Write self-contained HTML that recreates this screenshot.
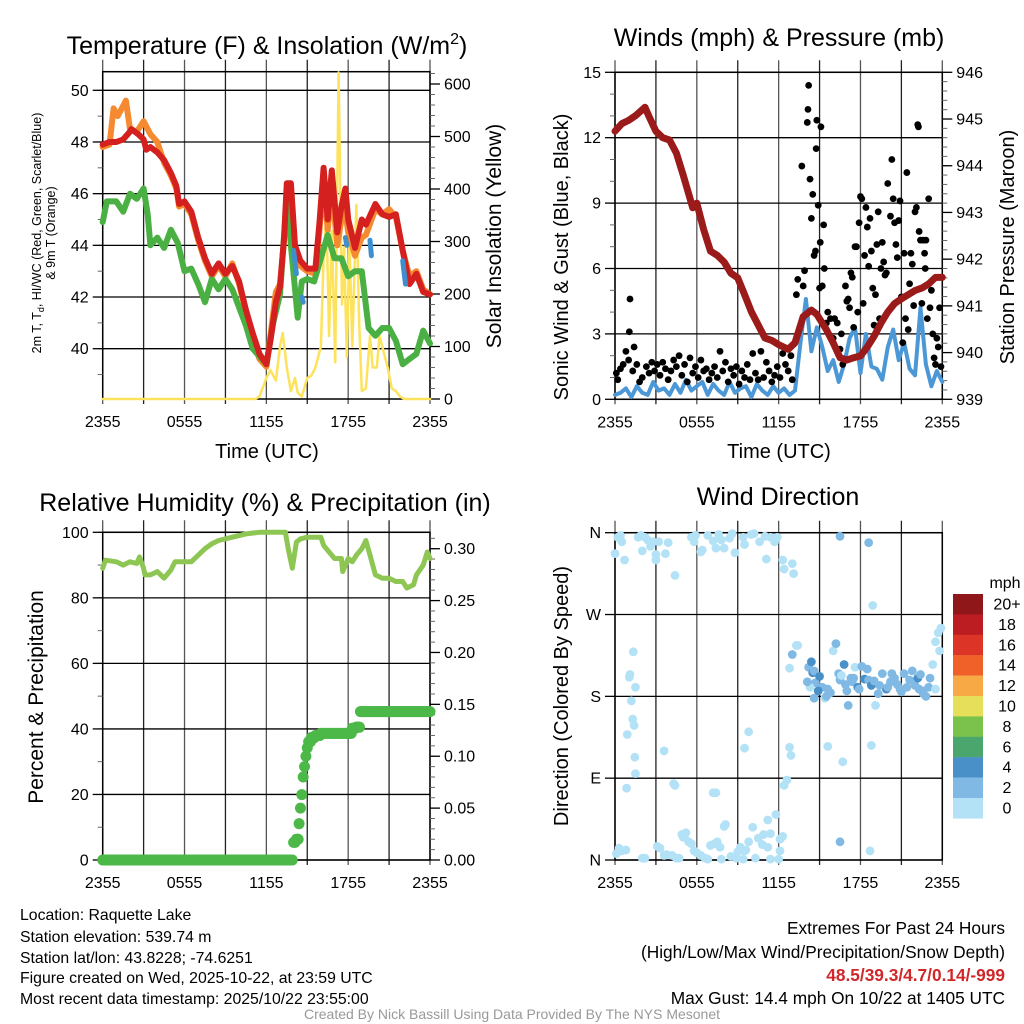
<!DOCTYPE html>
<html><head><meta charset="utf-8"><style>
body{margin:0;background:#fff}
svg{display:block;font-family:"Liberation Sans",Arial,sans-serif}
</style></head><body>
<svg id="s" width="1024" height="1024" viewBox="0 0 1024 1024" xmlns="http://www.w3.org/2000/svg">
<g font-size="25" text-anchor="middle">
<text x="267" y="54">Temperature (F) &amp; Insolation (W/m<tspan dy="-10" font-size="16">2</tspan><tspan dy="10">)</tspan></text>
<text x="779" y="46">Winds (mph) &amp; Pressure (mb)</text>
<text x="265" y="511">Relative Humidity (%) &amp; Precipitation (in)</text>
<text x="778" y="505">Wind Direction</text>
</g>
<g font-size="20" text-anchor="middle">
<text x="267" y="458">Time (UTC)</text>
<text x="779" y="458">Time (UTC)</text>
<text transform="translate(501,236) rotate(-90)" font-size="21">Solar Insolation (Yellow)</text>
<text transform="translate(568,257) rotate(-90)">Sonic Wind &amp; Gust (Blue, Black)</text>
<text transform="translate(1014,247) rotate(-90)">Station Pressure (Maroon)</text>
<text transform="translate(43,697) rotate(-90)" font-size="21">Percent &amp; Precipitation</text>
<text transform="translate(568,696) rotate(-90)">Direction (Colored By Speed)</text>
<text transform="translate(41,233) rotate(-90)" font-size="12.5">2m T, T<tspan font-size="9" dy="3">d</tspan><tspan dy="-3">, HI/WC (Red, Green, Scarlet/Blue)</tspan></text>
<text transform="translate(55,233) rotate(-90)" font-size="12.5">&amp; 9m T (Orange)</text>
</g>
<g font-size="15.8">
<text x="20" y="920">Location: Raquette Lake</text>
<text x="20" y="942">Station elevation: 539.74 m</text>
<text x="20" y="963">Station lat/lon: 43.8228; -74.6251</text>
<text x="20" y="983">Figure created on Wed, 2025-10-22, at 23:59 UTC</text>
<text x="20" y="1004">Most recent data timestamp: 2025/10/22 23:55:00</text>
</g>
<g font-size="17.3" text-anchor="end">
<text x="1005" y="934">Extremes For Past 24 Hours</text>
<text x="1005" y="958">(High/Low/Max Wind/Precipitation/Snow Depth)</text>
<text x="1005" y="981" fill="#d0282a" font-weight="bold">48.5/39.3/4.7/0.14/-999</text>
<text x="1005" y="1004">Max Gust: 14.4 mph On 10/22 at 1405 UTC</text>
</g>
<text x="512" y="1019" font-size="14" fill="#999" text-anchor="middle">Created By Nick Bassill Using Data Provided By The NYS Mesonet</text>
</svg>
<script>
// ---------- data ----------
const timeTicks = ["2355","0555","1155","1755","2355"];
const tempTicks = [40,42,44,46,48,50];
const solarTicks = [0,100,200,300,400,500,600];
const windTicks = [0,3,6,9,12,15];
const presTicks = [939,940,941,942,943,944,945,946];
const rhTicks = [0,20,40,60,80,100];
const pcpTicks = ["0.00","0.05","0.10","0.15","0.20","0.25","0.30"];
const dirTicks = ["N","E","S","W","N"];
const legendLabels = ["20+","18","16","14","12","10","8","6","4","2","0"];
const legendColors = ["#8f1619","#bb1d23","#dc3427","#f0612a","#f7a945","#e6df5a","#7ac24c","#4aa66c","#4a90c8","#80bae4","#b3e2f7"];

const tempRed = [[0,47.9],[0.5,48.0],[1,48.0],[1.5,48.1],[2,48.4],[2.1,48.5],[2.6,48.3],[3,48.1],[3.2,47.7],[3.5,47.8],[4,47.6],[4.5,47.3],[5,46.8],[5.4,46.3],[5.6,45.6],[6,45.7],[6.5,45.3],[7,44.3],[7.5,43.5],[8,42.9],[8.5,43.3],[9,42.9],[9.5,43.2],[10,42.6],[10.5,41.5],[11,40.6],[11.5,39.8],[12,39.4],[12.3,40.3],[12.7,41.8],[13,42.4],[13.3,44.3],[13.5,46.4],[13.8,46.4],[14.1,44.0],[14.5,43.4],[15,43.1],[15.6,43.1],[15.9,44.9],[16.2,47.0],[16.5,45.0],[16.8,46.9],[17.2,44.5],[17.5,45.5],[17.8,46.2],[18,45.0],[18.5,43.9],[19,45.0],[19.3,44.8],[20,45.6],[20.5,45.2],[21,45.1],[21.5,45.2],[22,43.8],[22.5,42.5],[23,42.9],[23.5,42.2],[24,42.1]];
const tempOrange = [[0,47.8],[0.5,47.9],[0.8,49.3],[1.1,49.0],[1.7,49.6],[2,48.5],[2.5,48.4],[3,48.8],[3.5,48.3],[4,48.0],[4.5,47.2],[5,46.7],[5.4,46.2],[5.6,45.5],[6,45.6],[6.5,45.2],[7,44.2],[7.5,43.4],[8,42.8],[8.5,43.2],[9,42.8],[9.5,43.3],[10,42.5],[10.5,41.4],[11,40.4],[11.5,39.6],[12,39.3],[12.3,40.5],[12.7,42.2],[13,42.5],[13.3,44.2],[13.5,46.2],[13.8,46.0],[14.1,43.7],[14.5,43.2],[15,43.0],[15.6,42.9],[15.9,44.6],[16.2,46.5],[16.5,44.6],[16.8,46.2],[17.2,44.0],[17.5,45.0],[17.8,45.3],[18,44.5],[18.5,43.6],[19,44.3],[19.3,44.4],[20,45.4],[20.5,45.2],[21,45.4],[21.5,45.1],[22,43.8],[22.5,42.8],[23,43.0],[23.5,42.3],[24,42.1]];
const tempGreen = [[0,44.9],[0.3,45.7],[1,45.7],[1.5,45.3],[2,46.0],[2.5,45.8],[3,46.2],[3.3,45.2],[3.5,44.0],[4,44.3],[4.5,43.9],[5,44.6],[5.5,44.1],[6,43.0],[6.5,43.1],[7,42.5],[7.5,41.8],[8,42.7],[8.5,42.3],[9,42.7],[9.5,42.3],[10,41.6],[10.5,40.9],[11,40.0],[11.5,39.7],[12,39.4],[12.5,41.0],[13,42.1],[13.5,45.9],[13.8,44.0],[14.3,41.2],[14.6,42.6],[15,42.7],[15.5,42.6],[16,43.5],[16.5,44.4],[17,43.5],[17.5,43.5],[18,42.8],[18.5,43.0],[19,43.0],[19.5,40.8],[20,40.5],[20.5,40.8],[21,40.8],[21.5,40.3],[22,39.4],[22.5,39.6],[23,39.8],[23.5,40.7],[24,40.2]];
const tempBlueA = [[14.0,43.8],[14.2,42.9]];
const tempBlueB = [[14.6,42.0],[14.7,41.8]];
const tempBlueC = [[17.8,44.3],[17.9,44.0]];
const tempBlueD = [[19.6,44.2],[19.7,43.6]];
const tempBlueE = [[22.0,43.4],[22.2,42.5]];
const solar = [[0,0],[11.2,0],[11.5,5],[12,40],[12.3,55],[12.7,35],[13,100],[13.2,126],[13.5,60],[13.8,15],[14.1,40],[14.3,12],[14.6,5],[15,40],[15.3,45],[15.6,60],[16,100],[16.2,270],[16.4,350],[16.6,120],[16.8,320],[17.05,70],[17.3,622],[17.55,180],[17.7,290],[17.9,80],[18.1,300],[18.3,100],[18.6,370],[18.8,150],[19,15],[19.3,20],[19.6,120],[19.8,60],[20.1,60],[20.3,120],[20.6,90],[20.9,60],[21.2,20],[21.5,15],[21.8,5],[22.1,0],[24,0]];

const sonicWind = [0.2,0.3,0.5,0.1,0.6,0.3,0.2,0.8,0.4,0.5,0.2,0.7,0.3,0.9,0.4,0.6,0.8,0.2,0.7,0.4,0.2,0.8,0.3,0.5,0.6,0.1,0.7,0.4,0.2,0.6,0.3,0.5,0.2,0.4,2.6,4.6,2.2,3.3,2.4,1.3,1.8,0.8,1.6,2.8,3.3,1.2,3.0,1.5,1.4,0.9,2.4,3.2,1.8,2.6,1.4,1.1,4.2,1.6,0.6,1.3,0.8];
const gusts = [[0.1,1.2],[0.2,0.9],[0.4,1.4],[0.6,1.6],[0.8,2.2],[1.0,1.8],[1.05,3.1],[1.1,4.6],[1.3,1.3],[1.4,2.4],[1.6,1.6],[1.8,0.8],[2.0,1.0],[2.3,1.5],[2.5,1.2],[2.7,1.7],[2.9,1.3],[3.1,1.6],[3.3,1.1],[3.5,1.7],[3.7,1.4],[3.9,0.9],[4.1,1.3],[4.3,1.8],[4.5,1.5],[4.7,2.0],[4.9,1.1],[5.1,1.6],[5.3,0.8],[5.5,1.9],[5.7,1.2],[5.9,1.5],[6.1,1.0],[6.3,1.8],[6.5,1.3],[6.7,1.4],[6.9,0.9],[7.1,1.2],[7.3,1.5],[7.5,1.0],[7.7,2.2],[7.9,1.3],[8.1,1.7],[8.3,0.8],[8.5,1.4],[8.7,1.1],[8.9,1.5],[9.1,0.7],[9.3,1.3],[9.5,1.0],[9.7,1.6],[9.9,0.9],[10.1,2.1],[10.3,1.2],[10.5,0.9],[10.7,2.2],[10.9,1.0],[11.1,1.7],[11.3,1.3],[11.5,0.8],[11.7,1.1],[11.9,1.5],[12.1,1.0],[12.3,2.1],[12.5,1.6],[12.7,1.3],[12.9,2.0],[13.0,0.9],
[13.3,4.8],[13.4,5.5],[13.7,10.7],[13.8,5.2],[13.9,5.9],[14.1,12.7],[14.15,13.3],[14.2,14.4],[14.3,10.1],[14.4,8.3],[14.5,9.4],[14.6,6.6],[14.7,6.8],[14.75,11.5],[14.8,12.8],[14.9,8.9],[15.0,5.1],[15.05,7.2],[15.1,12.5],[15.2,5.2],[15.3,8.0],[15.35,6.0],[15.5,3.5],[15.6,4.0],[15.8,3.7],[16.0,2.8],[16.1,3.7],[16.3,3.5],[16.5,2.3],[16.6,3.0],[16.7,1.6],[16.9,5.2],[17.0,4.5],[17.1,4.6],[17.2,4.2],[17.3,5.8],[17.4,5.6],[17.5,3.3],[17.6,7.0],[17.7,7.0],[17.8,4.0],[17.9,8.1],[18.0,9.3],[18.1,9.2],[18.2,4.4],[18.3,6.6],[18.4,8.8],[18.5,7.9],[18.6,6.1],[18.7,8.3],[18.8,6.8],[18.9,5.1],[19.0,3.4],[19.1,4.8],[19.2,7.1],[19.3,8.6],[19.4,3.7],[19.5,6.0],[19.6,7.2],[19.7,6.3],[19.8,5.7],[19.9,5.8],[20.0,9.9],[20.2,8.4],[20.3,11.0],[20.4,9.2],[20.5,8.1],[20.6,7.1],[20.7,6.5],[20.8,8.2],[20.9,9.1],[21.0,4.7],[21.1,2.6],[21.2,6.7],[21.3,3.7],[21.4,10.4],[21.5,3.2],[21.6,5.3],[21.7,6.7],[21.8,6.2],[21.9,4.3],[22.0,8.6],[22.1,8.8],[22.2,12.6],[22.25,12.5],[22.3,7.7],[22.4,7.3],[22.5,4.4],[22.6,7.3],[22.7,6.7],[22.75,6.0],[22.8,7.3],[22.9,3.7],[23.0,9.2],[23.1,4.2],[23.2,5.0],[23.3,3.0],[23.4,1.9],[23.5,1.6],[23.6,2.8],[23.7,2.4],[23.8,4.2],[23.9,1.5]];
const pressure = [[0,944.74],[0.5,944.9],[1,944.97],[1.5,945.07],[2.2,945.25],[2.5,945.05],[3,944.74],[3.5,944.6],[4,944.55],[4.5,944.27],[5,943.8],[5.5,943.3],[5.7,943.1],[6,943.2],[6.5,942.64],[7,942.17],[7.5,942.08],[8,941.94],[8.5,941.7],[9,941.6],[9.5,941.24],[10,940.87],[10.5,940.59],[11,940.31],[11.5,940.26],[12,940.17],[12.7,940.07],[13.2,940.21],[13.8,940.77],[14.4,940.91],[14.8,940.82],[15.5,940.49],[16,940.21],[16.5,939.89],[17,939.84],[17.5,939.89],[18,939.93],[18.5,940.12],[19,940.35],[19.5,940.63],[20,940.87],[20.5,941.05],[21,941.15],[21.5,941.24],[22,941.33],[22.5,941.38],[23,941.47],[23.5,941.61],[24,941.61]];

const rh = [[0,89],[0.2,91.5],[1,91],[1.5,90],[2,91],[2.5,90.5],[2.7,92.5],[3,89],[3.1,87],[3.5,87],[4,88],[4.5,86],[5,88.5],[5.3,91],[6,91],[6.5,91],[7,93],[7.5,95],[8,96.5],[8.5,97.5],[9.5,98.5],[10.5,99.5],[11.5,100],[13,100],[13.4,100],[13.6,95],[13.9,89],[14.2,97],[14.5,98],[15,98.5],[16,98.5],[16.2,96],[16.6,94],[17,92],[17.5,92],[17.6,88],[18,92],[18.3,91],[18.6,93],[19,95],[19.3,97.5],[19.6,93],[20,87],[20.5,86],[21,86],[21.5,85],[22,85],[22.3,83],[22.8,84],[23,87],[23.5,90],[23.8,94],[24,92]];
const precipH = [0,1,2,3,4,5,6,7,8,9,10,11,12,13,13.6,13.9,14.0,14.2,14.4,14.5,14.6,14.7,14.8,14.9,15.0,15.1,15.3,15.6,16,16.5,17,17.5,18,18.3,18.6,18.9,19.5,20,21,22,23,24];
const precipV = [0,0,0,0,0,0,0,0,0,0,0,0,0,0,0,0,0.017,0.02,0.035,0.05,0.063,0.08,0.09,0.1,0.108,0.114,0.118,0.12,0.122,0.122,0.122,0.122,0.122,0.127,0.128,0.143,0.143,0.143,0.143,0.143,0.143,0.143];

const dirH = [0,0.2,0.4,0.5,0.7,1.7,1.9,2.0,2.2,2.4,2.6,2.8,3.0,3.2,3.0,3.7,3.9,4.4,5.6,5.8,5.9,6.3,6.4,6.8,7.2,7.4,7.6,7.8,8.0,8.4,8.6,8.8,9.4,9.5,10.2,10.0,10.6,11.0,11.4,11.1,11.7,11.9,12.3,12.4,13.0,13.1,
1.34,1.05,1.1,1.5,1.2,1.3,1.4,0.9,1.45,1.5,0.85,3.6,4.3,4.4,7.2,7.4,9.5,9.8,12.4,12.8,12.9,
0.1,0.3,0.5,0.8,2.0,2.2,3.1,3.3,3.6,3.8,4.2,4.5,4.7,5.0,5.1,4.9,5.2,5.4,5.6,5.8,6.0,6.3,6.6,7.0,7.3,7.5,7.7,8.0,8.1,8.5,8.9,9.0,9.2,9.5,9.6,9.8,10.1,10.5,10.8,11.2,11.4,11.8,11.2,10.9,12.1,12.3,12.1,11.4,10.3,9.4,7.8,6.8,12.0,
12.8,13.0,13.3,13.4,14.2,14.4,14.5,14.6,14.7,14.3,14.6,15.0,15.2,15.4,15.5,15.6,16.0,16.2,16.4,16.5,16.6,16.8,16.9,17.0,17.1,17.3,17.4,17.6,17.8,17.9,18.1,18.3,18.5,18.6,18.8,19.0,19.1,19.3,19.6,19.9,20.0,20.2,20.3,20.5,20.7,20.9,21.2,21.4,21.6,21.8,22.0,22.2,22.4,22.6,22.8,23.0,23.1,23.3,23.5,23.7,23.9,23.8,23.5,
16.5,18.6,18.9,16.5,18.7,15.6,16.7,18.8,12.6,14.1,14.9,15.8,17.5,19.4,20.5,21.0,22.3,22.6];
const dirD = [337,355,357,350,330,355,357,340,355,352,345,350,336,350,330,337,349,313,355,350,357,339,341,357,351,343,358,352,343,354,359,338,355,347,359,358,350,356,355,331,350,355,330,320,326,315,
229,201,204,190,175,155,148,138,113,95,79,120,84,82,74,74,123,141,82,124,115,
7,13,10,11,2,2,15,13,5,6,5,2,2,25,27,28,30,20,18,10,8,5,2,16,18,20,14,37,39,4,2,9,14,10,11,20,36,24,17,14,29,50,44,28,23,26,10,1,2,1,1,1,1,
211,226,236,236,212,218,206,208,195,190,178,202,190,178,180,188,230,238,205,198,203,215,193,186,170,200,196,212,190,188,213,199,210,198,192,197,170,183,205,188,190,196,205,200,193,188,205,190,198,208,192,200,204,186,180,190,200,215,240,250,255,230,188,
356,349,280,20,10,125,108,126,88,196,186,184,200,192,196,185,188,183];
const dirB = [0,0,0,0,0,0,0,0,0,0,0,0,0,0,0,0,0,0,0,0,0,0,0,0,0,0,0,0,0,0,0,0,0,0,0,0,0,0,0,0,0,0,0,0,0,0,
0,0,0,0,0,0,0,0,0,0,0,0,0,0,0,0,0,0,0,0,0,
0,0,0,0,0,0,0,0,0,0,0,0,0,0,0,0,0,0,0,0,0,0,0,0,0,0,0,0,0,0,0,0,0,0,0,0,0,0,0,0,0,0,0,0,0,0,0,0,0,0,0,0,0,
0,1,0,0,1,2,2,1,1,0,1,2,1,0,1,1,0,1,1,1,0,2,1,1,1,1,1,0,2,1,1,2,1,1,2,1,0,1,1,2,1,1,1,1,1,1,1,1,1,1,1,2,1,1,1,1,1,0,0,0,0,0,0,
1,1,0,1,0,0,0,0,0,1,2,1,1,1,1,1,1,1];
const binColors = ["#b3e2f7","#80bae4","#4a90c8"];

// ---------- drawing ----------
const svg = document.getElementById('s');
const NS = "http://www.w3.org/2000/svg";
function mk(tag, attrs, parent){ const e=document.createElementNS(NS,tag); for(const k in attrs) e.setAttribute(k,attrs[k]); (parent||svg).appendChild(e); return e; }

function makePanel(name, x0, x1, y0, y1){
  const g = mk('g',{});
  
  
  const sx = h => x0 + (x1-x0)*h/24;
  return {g, x0, x1, y0, y1, sx};
}
function frameAndGrid(p, hGridYs){
  const grid = mk('g',{stroke:'#000','stroke-width':1.3}, p.g);
  
  
  for(let i=0;i<=8;i++){ const x=p.sx(i*3); mk('line',{x1:x,x2:x,y1:p.y0-12,y2:p.y1+5,stroke:i%2?'#222':'#555'},grid); }
  hGridYs.forEach(y=>mk('line',{x1:p.x0,x2:p.x1,y1:y,y2:y},grid));
  mk('rect',{x:p.x0,y:p.y0,width:p.x1-p.x0,height:p.y1-p.y0,fill:'none',stroke:'#000','stroke-width':1.5},grid);
  const xt = mk('g',{'font-size':16,'text-anchor':'middle'}, p.g);
  
  
  timeTicks.forEach((t,i)=>{ const e=mk('text',{x:p.sx(i*6),y:p.y1+28},xt); e.textContent=t; });
}
function yAxis(p, side, ticks, scale, minorStep, lo, hi, labelFn){
  const g = mk('g',{'font-size':16,'text-anchor': side==='left'?'end':'start'}, p.g);
  
  
  const xe = side==='left'?p.x0:p.x1, dir = side==='left'?-1:1;
  if(minorStep){ for(let v=lo; v<=hi+1e-9; v+=minorStep){ const y=scale(v); if(y<p.y0-0.5||y>p.y1+0.5) continue; mk('line',{x1:xe,x2:xe+dir*5,y1:y,y2:y,stroke:'#666','stroke-width':1},g);} }
  ticks.forEach((t,i)=>{ const y=scale(typeof t==='string'? parseFloat(t): t);
    mk('line',{x1:xe,x2:xe+dir*10,y1:y,y2:y,stroke:'#000','stroke-width':1.3},g);
    const e=mk('text',{x:xe+dir*14,y:y+5.5},g); e.textContent = labelFn?labelFn(t,i):t; });
}
function line(p, pts, sxF, syF, color, w, name){
  const d = pts.map(q=>sxF(q[0]).toFixed(1)+','+syF(q[1]).toFixed(1)).join(' ');
  const e = mk('polyline',{points:d,fill:'none',stroke:color,'stroke-width':w,'stroke-linejoin':'round','stroke-linecap':'round'},p.g);
  
  
  return e;
}

// Panel 1: temperature
const p1 = makePanel('temperature-panel', 102.7, 430, 71.7, 399);
const yT = v => 348.7 - (v-40)*25.84;
const yS = v => 399 - v*0.525;
frameAndGrid(p1, tempTicks.map(yT));
yAxis(p1,'left',tempTicks,yT,1,38,50);
yAxis(p1,'right',solarTicks,yS,20,0,620);
line(p1, solar, p1.sx, yS, '#fde35c', 2.5, 'insolation-line');
line(p1, tempOrange, p1.sx, yT, '#f58a30', 6, 'temp-9m-line');
line(p1, tempGreen, p1.sx, yT, '#4bb043', 6, 'dewpoint-line');
line(p1, tempRed, p1.sx, yT, '#d4201f', 6, 'temp-2m-line');
[tempBlueA,tempBlueB,tempBlueC,tempBlueD,tempBlueE].forEach(s=>line(p1, s, p1.sx, yT, '#3f8fcf', 5, 'windchill-segment'));

// Panel 2: winds & pressure
const p2 = makePanel('winds-panel', 615, 942.3, 72.3, 399.3);
const yW = v => 399.3 - v*(327/15);
const yP = v => 399.3 - (v-939)*(327/7);
frameAndGrid(p2, windTicks.map(yW));
yAxis(p2,'left',windTicks,yW,1,0,15);
yAxis(p2,'right',presTicks,yP,0.2,939,946);
line(p2, sonicWind.map((v,i)=>[i*0.4,v]), p2.sx, yW, '#4c98d6', 4, 'sonic-wind-line');
gusts.forEach(q=>{ const c=mk('circle',{cx:p2.sx(q[0]),cy:yW(q[1]),r:3.4,fill:'#000'},p2.g);
  
   });
line(p2, pressure, p2.sx, yP, '#9b1a1a', 7, 'pressure-line');

// Panel 3: RH & precip
const p3 = makePanel('humidity-panel', 102.7, 430, 532.3, 860);
const yR = v => 860 - v*3.277;
const yPc = v => 860 - v*(311.3/0.30);
frameAndGrid(p3, rhTicks.map(yR));
yAxis(p3,'left',rhTicks,yR,10,0,100);
yAxis(p3,'right',pcpTicks,yPc,0.01,0,0.31);
line(p3, rh, p3.sx, yR, '#8dc653', 5, 'rh-line');
for(let i=0;i<precipH.length;i++){
  const n = i<precipH.length-1 ? Math.max(1,Math.round((precipH[i+1]-precipH[i])/0.08)) : 1;
  for(let k=0;k<n;k++){
    const h = precipH[i] + (i<precipH.length-1? (precipH[i+1]-precipH[i])*k/n : 0);
    const c = mk('circle',{cx:p3.sx(h),cy:yPc(precipV[i]),r:5.5,fill:'#4cb848'},p3.g);
    
    
  }
}

// Panel 4: wind direction
const p4 = makePanel('direction-panel', 615, 942.3, 532.7, 860);
const yD = v => 860 - v*(327.3/360);
frameAndGrid(p4, [0,90,180,270,360].map(yD));
yAxis(p4,'left',[0,90,180,270,360],yD,0,0,0,(t,i)=>dirTicks[i]);
dirH.forEach((h,i)=>{ const c=mk('circle',{cx:p4.sx(h),cy:yD(dirD[i]),r:4.4,fill:binColors[dirB[i]]},p4.g);
  
   });

// Legend
const lg = mk('g',{'font-size':16,'text-anchor':'middle'});


const mph = mk('text',{x:1005,y:588},lg); mph.textContent='mph';
legendLabels.forEach((l,i)=>{
  const y = 594 + i*20.4;
  const r = mk('rect',{x:953,y:y,width:30,height:20.6,fill:legendColors[i]},lg);
  
  
  const t = mk('text',{x:1007,y:y+15.5},lg); t.textContent=l;
});
</script>
</body></html>
